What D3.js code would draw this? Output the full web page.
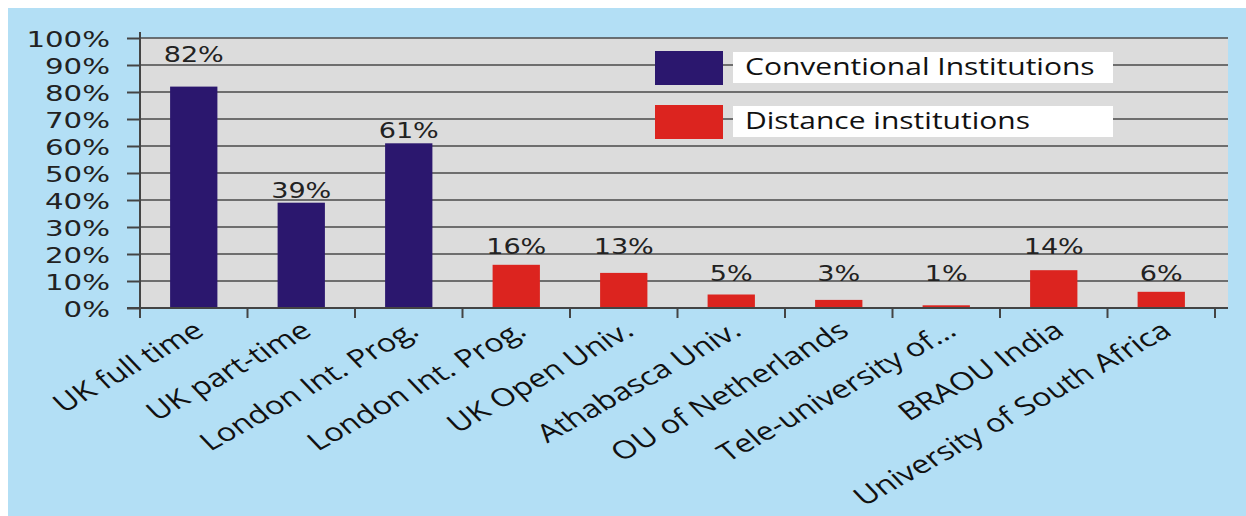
<!DOCTYPE html>
<html>
<head>
<meta charset="utf-8">
<script src="https://cdn.jsdelivr.net/npm/d3@7"></script>
<style>
  body { margin: 0; background: #fff; }
  svg { display: block; }
</style>
</head>
<body>
<svg id="chart" width="1246" height="516"></svg>
<script>
// institutions along the x axis
const institutions = [
  "UK full time", "UK part-time", "London Int. Prog.", "London Int. Prog.",
  "UK Open Univ.", "Athabasca Univ.", "OU of Netherlands", "Tele-university of...",
  "BRAOU India", "University of South Africa"
];
const values = [82, 39, 61, 16, 13, 5, 3, 1, 14, 6];
const groups = ["conv", "conv", "conv", "dist", "dist", "dist", "dist", "dist", "dist", "dist"];
const legendLabels = ["Conventional Institutions", "Distance institutions"];
const yTicks = [0, 10, 20, 30, 40, 50, 60, 70, 80, 90, 100];

const svg = d3.select("#chart");
const W = 1246, H = 516;
const colors = { conv: "#2b176e", dist: "#dc241f" };
const stretch = 1.32; // the picture is stretched horizontally

svg.append("rect").attr("x", 8).attr("y", 8).attr("width", W - 8).attr("height", H - 8)
  .attr("fill", "#b3dff5");

const plot = { left: 140, right: 1228, top: 38, bottom: 308 };

const x = d3.scaleBand()
  .domain(d3.range(institutions.length))
  .range([plot.left, 1215])
  .paddingInner(0.56).paddingOuter(0.28);

const y = d3.scaleLinear().domain([0, 100]).range([plot.bottom, plot.top]);

svg.append("rect")
  .attr("x", plot.left).attr("y", plot.top)
  .attr("width", plot.right - plot.left).attr("height", plot.bottom - plot.top)
  .attr("fill", "#dcdcdc");

// gridlines
svg.append("g").selectAll("line").data(yTicks.slice(1)).join("line")
  .attr("x1", plot.left).attr("x2", plot.right)
  .attr("y1", d => y(d)).attr("y2", d => y(d))
  .attr("stroke", "#4a4a4a").attr("stroke-width", 1.6);

// legend
const legend = svg.append("g");
legendLabels.forEach((lab, i) => {
  const ly = 51 + i * 54;
  legend.append("rect").attr("x", 655).attr("y", ly).attr("width", 68).attr("height", 34)
    .attr("fill", colors[i === 0 ? "conv" : "dist"]);
  legend.append("rect").attr("x", 733).attr("y", ly + 1).attr("width", 380).attr("height", 31)
    .attr("fill", "#fff");
  legend.append("text")
    .attr("transform", `translate(745,${ly + 24}) scale(1.25,1)`)
    .attr("font-family", "Open Sans").attr("font-size", 24).attr("fill", "#111")
    .text(lab);
});

// bars
svg.append("g").selectAll("rect").data(values).join("rect")
  .attr("x", (d, i) => x(i))
  .attr("y", d => y(d))
  .attr("width", x.bandwidth())
  .attr("height", d => y(0) - y(d))
  .attr("fill", (d, i) => colors[groups[i]]);

// value labels
svg.append("g").selectAll("text").data(values).join("text")
  .attr("transform", (d, i) => {
    const base = d < 20 ? y(Math.ceil(d / 10) * 10) : y(d) - 5 - (d > 80 ? 20 : 0);
    return `translate(${x(i) + x.bandwidth() / 2},${base}) scale(${stretch},1)`;
  })
  .attr("text-anchor", "middle")
  .attr("font-family", "DejaVu Sans").attr("font-size", 20.5).attr("fill", "#222")
  .text(d => d + "%");

// y axis
const yAxis = svg.append("g").attr("transform", `translate(${plot.left},0)`)
  .call(d3.axisLeft(y).tickValues(yTicks).tickSize(13).tickFormat(""));
yAxis.select(".domain").attr("d", `M0,32V318`);
yAxis.selectAll("line, path").attr("stroke", "#444").attr("stroke-width", 2);
yAxis.selectAll(".tick").append("text")
  .attr("transform", `translate(-30,8) scale(1.36,1)`)
  .attr("text-anchor", "end")
  .attr("font-family", "DejaVu Sans").attr("font-size", 21.5).attr("fill", "#222")
  .text(d => d + "%");

// x axis: ticks between bands
const xAxis = svg.append("g").attr("transform", `translate(0,${plot.bottom})`);
xAxis.append("line").attr("x1", 127).attr("x2", plot.right).attr("stroke", "#444").attr("stroke-width", 2);
const step = x.step();
xAxis.selectAll("line.t").data(d3.range(institutions.length + 1)).join("line")
  .attr("class", "t")
  .attr("x1", i => plot.left + i * step).attr("x2", i => plot.left + i * step)
  .attr("y1", 0).attr("y2", 10)
  .attr("stroke", "#444").attr("stroke-width", 2);

xAxis.selectAll("text").data(institutions).join("text")
  .attr("transform", (d, i) => `translate(${x(i) + x.bandwidth() / 2 + 12},${26}) scale(1.3,1) rotate(-36)`)
  .attr("text-anchor", "end")
  .attr("font-family", "Open Sans").attr("font-size", 25).attr("fill", "#111")
  .text(d => d);
</script>
</body>
</html>
